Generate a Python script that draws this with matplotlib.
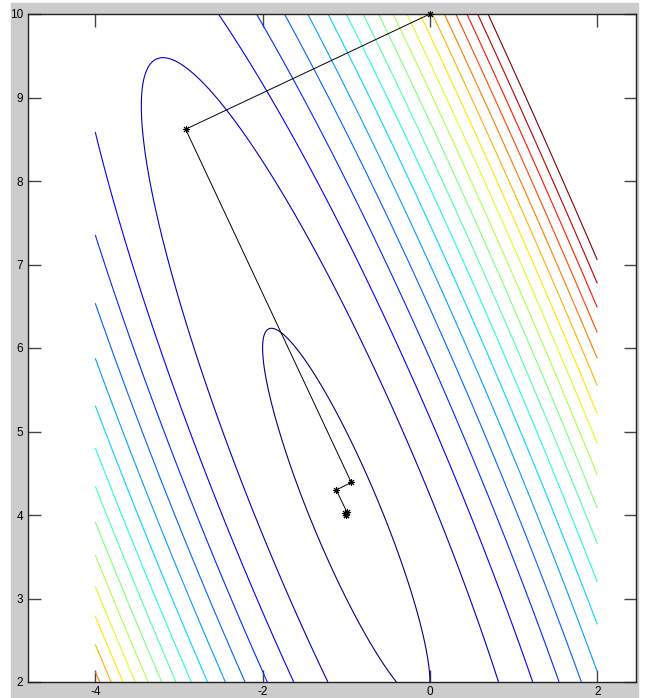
import numpy as np
import matplotlib
matplotlib.use("Agg")
import matplotlib.pyplot as plt
from matplotlib.patches import Rectangle

plt.rcParams['font.family'] = ['Liberation Sans', 'DejaVu Sans']
plt.rcParams['axes.unicode_minus'] = False

# objective f(x, y) = (a1*x + b1*y + c1)^2 + (a2*x + b2*y + c2)^2
coef1 = [2.0, 1.0, -2.0]
coef2 = [1.0, 0.0, 1.0]
x_range = [-4, 2]
y_range = [2, 10]
levels = [1, 6, 11, 16, 21, 26, 31, 36, 41, 46, 51, 56, 61, 66, 71, 76, 81, 86, 91]

# steepest descent iterates
path_x = [0.0, -2.92, -0.94, -1.12, -0.99, -1.01, -1.0, -1.0]
path_y = [10.0, 8.62, 4.39, 4.30, 4.03, 4.02, 4.00, 4.00]

xticks = [-4, -2, 0, 2]
yticks = [2, 3, 4, 5, 6, 7, 8, 9, 10]

W, H = 647, 698
fig = plt.figure(figsize=(W / 100, H / 100), dpi=100, facecolor='white')
# grey window area behind the axes
fig.patches.append(Rectangle((11 / W, 0), (638 - 11) / W, (H - 3) / H,
                             transform=fig.transFigure, color='#cccccc', zorder=-10))

ax = fig.add_axes([27.5 / W, (H - 682) / H, 608 / W, 668 / H])
ax.set_facecolor('white')

X, Y = np.meshgrid(np.linspace(x_range[0], x_range[1], 400),
                   np.linspace(y_range[0], y_range[1], 400))
Z = (coef1[0] * X + coef1[1] * Y + coef1[2]) ** 2 + (coef2[0] * X + coef2[1] * Y + coef2[2]) ** 2
ax.contour(X, Y, Z, levels=levels, cmap='jet', linewidths=0.8)

ax.plot(path_x, path_y, color='black', linewidth=0.7, marker=(8, 2, 0),
        markersize=5, markeredgewidth=0.7, clip_on=False, zorder=5)

ax.set_xlim(-4.81, 2.457)
ax.set_ylim(2, 10)
ax.set_xticks(xticks)
ax.set_yticks(yticks)
ax.set_xticklabels([str(t) for t in xticks])
ax.set_yticklabels([str(t) for t in yticks])
ax.tick_params(direction='in', length=9, width=1, color='#444444',
               top=True, right=True, labelsize=8.5, pad=3)
for s in ax.spines.values():
    s.set_color('#222222')
    s.set_linewidth(1)

fig.savefig('out.png', dpi=100, facecolor=fig.get_facecolor())
